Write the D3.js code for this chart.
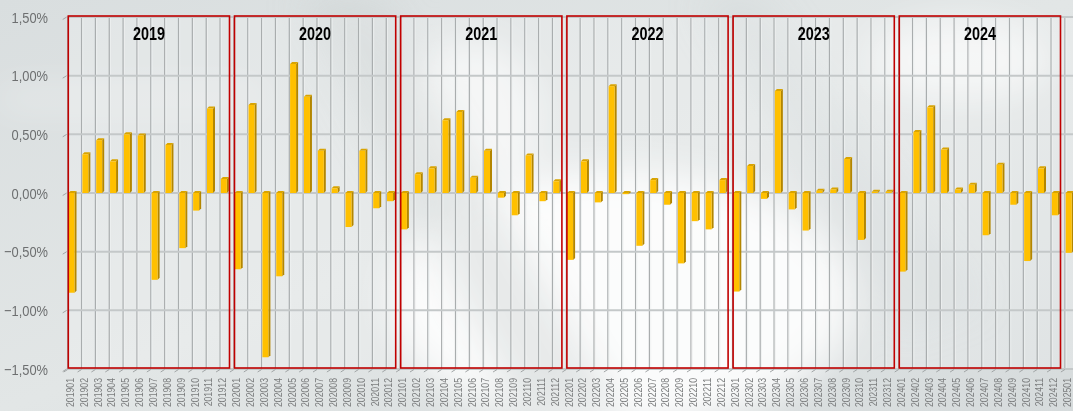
<!DOCTYPE html>
<html><head><meta charset="utf-8">
<script src="https://cdn.jsdelivr.net/npm/d3@7"></script>
<style>html,body{margin:0;padding:0;background:#dce1e2;overflow:hidden}</style>
</head><body><svg id="c" width="1073" height="411"></svg>
<script>
const categories = [
 "201901","201902","201903","201904","201905","201906","201907","201908","201909","201910","201911","201912",
 "202001","202002","202003","202004","202005","202006","202007","202008","202009","202010","202011","202012",
 "202101","202102","202103","202104","202105","202106","202107","202108","202109","202110","202111","202112",
 "202201","202202","202203","202204","202205","202206","202207","202208","202209","202210","202211","202212",
 "202301","202302","202303","202304","202305","202306","202307","202308","202309","202310","202311","202312",
 "202401","202402","202403","202404","202405","202406","202407","202408","202409","202410","202411","202412",
 "202501"];
const values = [
 -0.85,0.33,0.45,0.27,0.50,0.49,-0.74,0.41,-0.47,-0.15,0.72,0.12,
 -0.65,0.75,-1.40,-0.71,1.10,0.82,0.36,0.04,-0.29,0.36,-0.13,-0.07,
 -0.31,0.16,0.21,0.62,0.69,0.13,0.36,-0.04,-0.19,0.32,-0.07,0.10,
 -0.57,0.27,-0.08,0.91,-0.01,-0.45,0.11,-0.10,-0.60,-0.24,-0.31,0.11,
 -0.84,0.23,-0.05,0.87,-0.14,-0.32,0.02,0.03,0.29,-0.40,0.01,0.01,
 -0.67,0.52,0.73,0.37,0.03,0.07,-0.36,0.24,-0.10,-0.58,0.21,-0.19,
 -0.51];
const years = ["2019","2020","2021","2022","2023","2024"];
const yTicks = [-1.5,-1.0,-0.5,0,0.5,1.0,1.5];

const svg = d3.select("#c");
const W = 1073, H = 411;
const x0 = 67.7, step = 13.85;
const x = d3.scaleBand().domain(categories).range([x0, x0 + step*categories.length]).padding(0);
const y = d3.scaleLinear().domain([-1.5, 1.5]).range([369, 17]);
const fmt = v => d3.format(".2f")(v).replace(".", ",") + "%";

// background
const defs = svg.append("defs");
const bg = defs.append("linearGradient").attr("id","bg").attr("x1",0).attr("y1",0).attr("x2",1).attr("y2",1);
bg.append("stop").attr("offset",0).attr("stop-color","#d9dedf");
bg.append("stop").attr("offset",0.5).attr("stop-color","#e2e6e6");
bg.append("stop").attr("offset",1).attr("stop-color","#d6dbdc");
defs.append("filter").attr("id","blur").attr("x","-50%").attr("y","-50%").attr("width","200%").attr("height","200%")
  .append("feGaussianBlur").attr("stdDeviation",18);
svg.append("rect").attr("width",W).attr("height",H).attr("fill","url(#bg)");
const deco = svg.append("g").attr("filter","url(#blur)");
deco.append("ellipse").attr("cx",620).attr("cy",300).attr("rx",230).attr("ry",130).attr("fill","#ffffff").attr("opacity",0.85);
deco.append("ellipse").attr("cx",470).attr("cy",120).attr("rx",70).attr("ry",80).attr("fill","#ffffff").attr("opacity",0.6);
deco.append("ellipse").attr("cx",960).attr("cy",60).attr("rx",90).attr("ry",40).attr("fill","#ffffff").attr("opacity",0.6);
deco.append("rect").attr("x",0).attr("y",92).attr("width",260).attr("height",14).attr("fill","#ffffff").attr("opacity",0.5);
deco.append("path").attr("d","M300,0 L380,0 L620,411 L520,411 Z").attr("fill","#c9cfd0").attr("opacity",0.5);
deco.append("path").attr("d","M700,0 L760,0 L980,300 L900,330 Z").attr("fill","#cdd3d4").attr("opacity",0.4);

// plot area
const pr = x0 + step*categories.length;
svg.append("rect").attr("x",x0).attr("y",17).attr("width",pr-x0).attr("height",352)
  .attr("fill","#ffffff").attr("opacity",0.22);

// vertical gridlines
const vg = svg.append("g");
categories.concat(["_end"]).forEach((c,i)=>{
  const xx = x0 + step*i;
  vg.append("line").attr("x1",xx).attr("x2",xx).attr("y1",16).attr("y2",369).attr("stroke","#a9adae").attr("stroke-width",1.2);
  vg.append("line").attr("x1",xx+1.3).attr("x2",xx+1.3).attr("y1",16).attr("y2",369).attr("stroke","#eef0f0").attr("stroke-width",0.8);
});
// horizontal gridlines
const hg = svg.append("g");
yTicks.forEach(t=>{
  hg.append("line").attr("x1",x0).attr("x2",pr).attr("y1",y(t)).attr("y2",y(t)).attr("stroke","#c4c8c9").attr("stroke-width",2);
  hg.append("line").attr("x1",x0-5).attr("x2",x0-1).attr("y1",y(t)+2.5).attr("y2",y(t)).attr("stroke","#a0a4a5").attr("stroke-width",1);
});
// floor ticks
categories.concat(["_end"]).forEach((c,i)=>{
  const xx = x0 + step*i;
  svg.append("line").attr("x1",xx-4).attr("x2",xx).attr("y1",372).attr("y2",369.5).attr("stroke","#a0a4a5").attr("stroke-width",1);
});

// bars (3D look)
const bw = 6, dp = 2;
const bars = svg.append("g");
categories.forEach((c,i)=>{
  const v = values[i];
  const bx = x(c) + 0.8;
  const y0 = y(0), y1 = y(v);
  const top = Math.min(y0,y1), bot = Math.max(y0,y1);
  bars.append("path").attr("d",`M${bx+bw},${top} L${bx+bw+dp},${top-dp} L${bx+bw+dp},${bot-dp} L${bx+bw},${bot} Z`).attr("fill","#b38600");
  bars.append("path").attr("d",`M${bx},${top} L${bx+dp},${top-dp} L${bx+bw+dp},${top-dp} L${bx+bw},${top} Z`).attr("fill","#d9a400");
  bars.append("rect").attr("x",bx).attr("y",top).attr("width",bw).attr("height",Math.max(0.5,bot-top)).attr("fill","#ffc000");
});

// year boxes
const boxes = svg.append("g");
years.forEach((yr,k)=>{
  const bx = x(categories[k*12]) + 0.6;
  const w = step*12 - 5;
  boxes.append("rect").attr("x",bx).attr("y",16).attr("width",w).attr("height",352)
    .attr("fill","none").attr("stroke","#c00000").attr("stroke-width",1.6);
  boxes.append("text").attr("x",bx + w/2).attr("y",40).attr("text-anchor","middle")
    .attr("font-family","Liberation Sans, Arial, sans-serif").attr("font-weight","bold").attr("font-size",17.5)
    .attr("textLength",32).attr("lengthAdjust","spacingAndGlyphs").attr("fill","#000").text(yr);
});

// y axis labels
const ya = svg.append("g");
yTicks.forEach(t=>{
  ya.append("text").attr("transform",`translate(48,${y(t)+5.5}) scale(0.83,1)`).attr("text-anchor","end")
    .attr("font-family","Liberation Sans, Arial, sans-serif").attr("font-size",15.5).attr("fill","#6d6f70").text(fmt(t));
});

// x axis labels
const xa = svg.append("g");
categories.forEach((c,i)=>{
  const cx = x(c) + x.bandwidth()/2 - 1.5;
  xa.append("text").attr("transform",`translate(${cx+0.8},378) rotate(-90) scale(0.83,1)`).attr("text-anchor","end")
    .attr("font-family","Liberation Sans, Arial, sans-serif").attr("font-size",10.5).attr("fill","#7b7d7e").text(c);
});
</script></body></html>
